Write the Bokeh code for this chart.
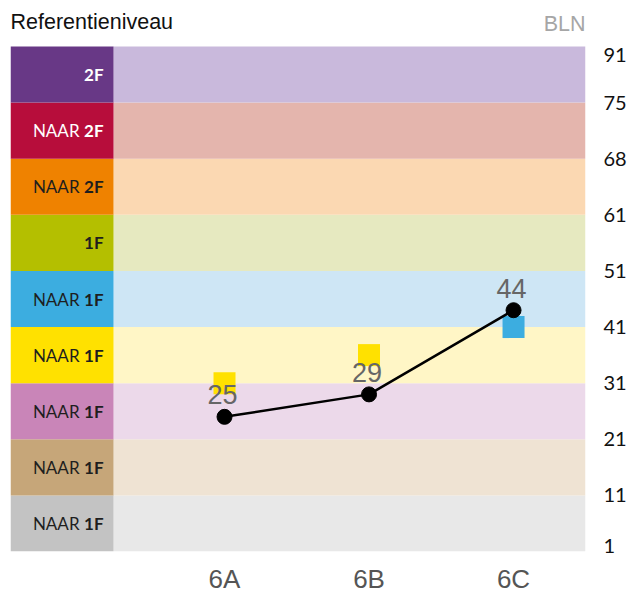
from bokeh.plotting import figure
from bokeh.models import FixedTicker, Range1d
from bokeh.core.properties import value
from bokeh.embed import file_html
from bokeh.resources import INLINE
import numpy as np

# ---- data ----
categories = ["6A", "6B", "6C"]
scores = [25, 29, 44]
targets = [31, 36, 41]
bln_ticks = [1, 11, 21, 31, 41, 51, 61, 68, 75, 91]          # band boundaries (bottom -> top)
level_prefix = ["NAAR", "NAAR", "NAAR", "NAAR", "NAAR", "", "NAAR", "NAAR", ""]
level_suffix = ["1F", "1F", "1F", "1F", "1F", "1F", "2F", "2F", "2F"]
level_dark = ["#c3c3c3", "#c6a679", "#c985b8", "#ffe100", "#3cade0",
              "#b4bf00", "#ef8200", "#b70d3b", "#683886"]
level_pale = ["#e8e8e8", "#efe3d3", "#ecd9ea", "#fff6c6", "#cee6f5",
              "#e6e9c0", "#fbd8b2", "#e4b5ad", "#c9b9dc"]
level_text = ["#1e1e1e"] * 7 + ["#ffffff", "#ffffff"]
title_text = "Referentieniveau"
scale_text = "BLN"

# ---- scales ----
nb = len(bln_ticks) - 1
band_idx = np.arange(len(bln_ticks))
to_y = lambda v: np.interp(v, bln_ticks, band_idx)
xi = np.arange(len(categories))
score_y = to_y(scores)
target_y = to_y(targets)
target_col = [level_dark[min(int(np.floor(t + 1e-9)), nb - 1)] for t in target_y]

X0, X1, COL = -1.481, 2.498, -0.768
Y_TOP = nb + 46 / (505 / nb)

p = figure(width=630, height=596, x_range=Range1d(X0, X1), y_range=Range1d(0, Y_TOP),
           output_backend="svg", toolbar_location=None, y_axis_location="right",
           min_border_left=10, min_border_right=45, min_border_top=0, min_border_bottom=45)
p.outline_line_color = None
p.grid.visible = False
p.background_fill_color = "white"
p.border_fill_color = "white"

# bands
p.quad(left=COL, right=X1, bottom=band_idx[:-1], top=band_idx[1:], fill_color=level_pale, line_color=None)
p.quad(left=X0, right=COL, bottom=band_idx[:-1], top=band_idx[1:], fill_color=level_dark, line_color=None)

# level labels
mid = band_idx[:-1] + 0.5
p.text(x=[COL] * nb, y=mid, text=level_suffix, text_align="right", text_baseline="middle",
       x_offset=-10, text_font=value("Lato"), text_font_style="bold", text_font_size="17px",
       text_color=level_text)
p.text(x=[COL] * nb, y=mid, text=level_prefix, text_align="right", text_baseline="middle",
       x_offset=-34, text_font=value("Lato"), text_font_size="17px", text_color=level_text)

# headings (inside the frame, above the bands)
p.text(x=[X0], y=[nb], text=[title_text], text_align="left", text_baseline="alphabetic",
       y_offset=-25, text_font=value("Liberation Sans"), text_font_size="21.5px", text_color="#111111")
p.text(x=[X1], y=[nb], text=[scale_text], text_align="right", text_baseline="alphabetic",
       y_offset=-23, text_font=value("Liberation Sans"), text_font_size="21.5px", text_color="#a6a6a6")

# targets, line, points, value labels
p.scatter(xi, target_y, marker="square", size=22, fill_color=target_col, line_color=None)
p.line(xi, score_y, line_color="black", line_width=2.5)
p.scatter(xi, score_y, size=15, fill_color="black", line_color="black")
p.text(x=xi, y=score_y, text=[str(s) for s in scores], text_align="center", text_baseline="alphabetic",
       x_offset=-2, y_offset=-22, text_font=value("Liberation Sans"), text_font_size="27px",
       text_color="#666666")

# x axis
p.xaxis.ticker = FixedTicker(ticks=list(xi))
p.xaxis.major_label_overrides = {int(i): c for i, c in zip(xi, categories)}
p.xaxis.axis_line_color = None
p.xaxis.major_tick_line_color = None
p.xaxis.minor_tick_line_color = None
p.xaxis.major_tick_out = 0
p.xaxis.major_tick_in = 0
p.xaxis.minor_tick_out = 0
p.xaxis.major_label_standoff = 12
p.xaxis.major_label_text_font = "Liberation Sans"
p.xaxis.major_label_text_font_size = "26px"
p.xaxis.major_label_text_color = "#555555"

# right axis (BLN)
tick_pos = [float(v) for v in band_idx]
tick_pos[0] = 0.09
tick_pos[-1] = nb - 0.16
p.yaxis.ticker = FixedTicker(ticks=tick_pos)
p.yaxis.major_label_overrides = {t: str(b) for t, b in zip(tick_pos, bln_ticks)}
p.yaxis.axis_line_color = None
p.yaxis.major_tick_line_color = None
p.yaxis.minor_tick_line_color = None
p.yaxis.major_tick_out = 0
p.yaxis.major_tick_in = 0
p.yaxis.minor_tick_out = 0
p.yaxis.major_label_standoff = 18
p.yaxis.major_label_text_font = "Lato"
p.yaxis.major_label_text_font_size = "20px"
p.yaxis.major_label_text_color = "#111111"

open("out.html", "w").write(file_html(p, INLINE))
